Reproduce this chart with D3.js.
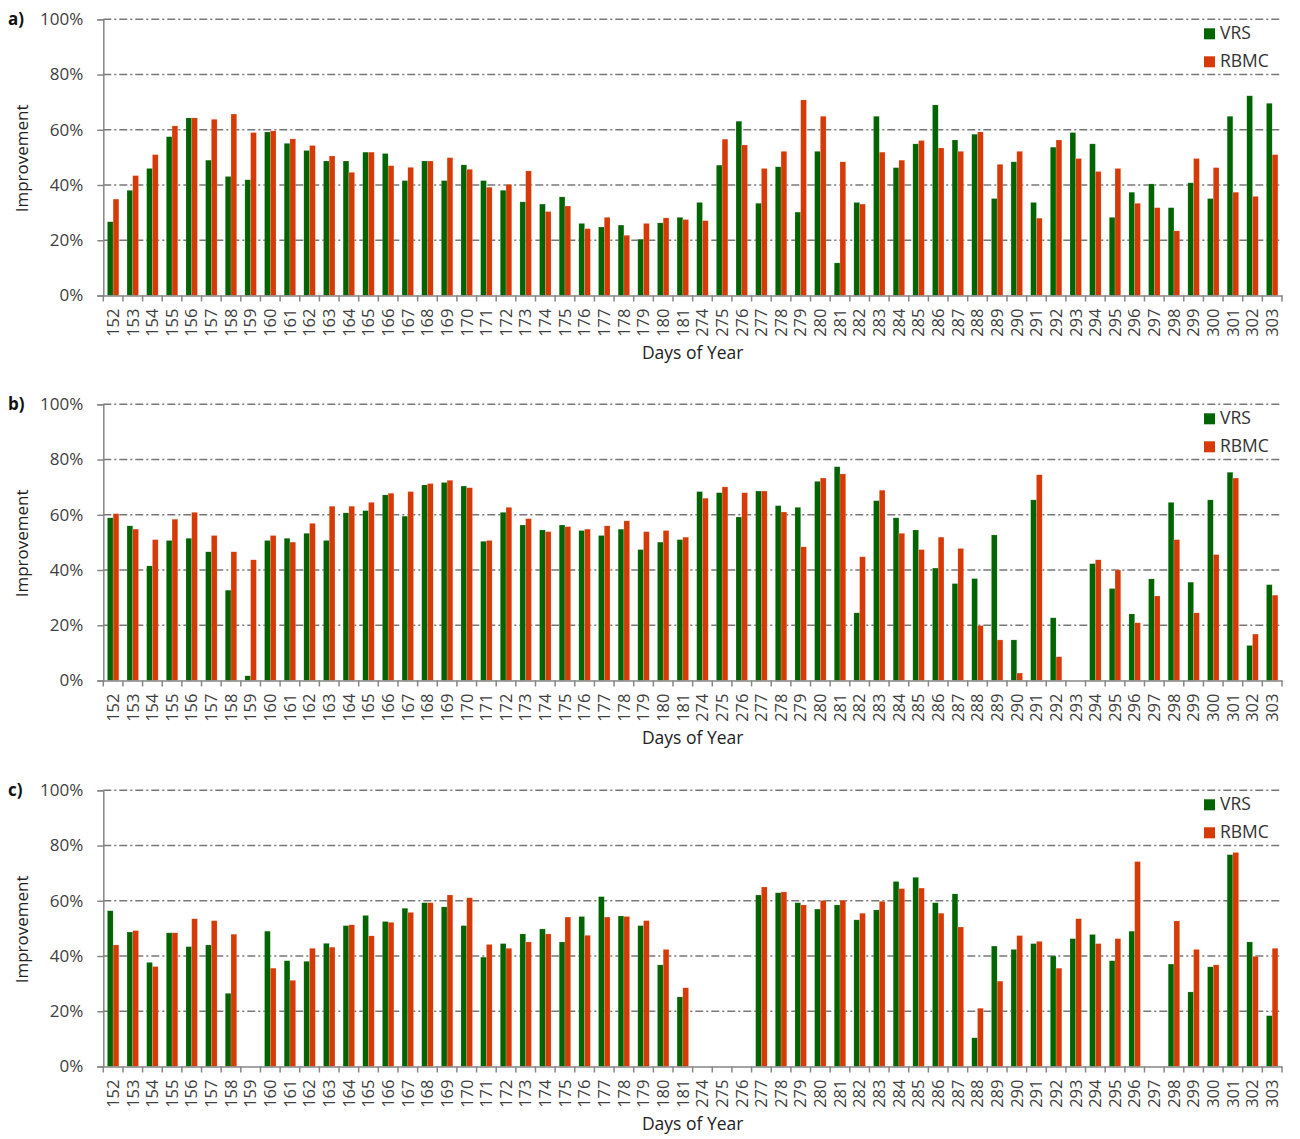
<!DOCTYPE html>
<html>
<head>
<meta charset="utf-8">
<script src="https://cdn.jsdelivr.net/npm/d3@7"></script>
<style>
  body { margin: 0; background: #fff; }
  svg text { font-family: "Open Sans", "Noto Sans", sans-serif; }
</style>
</head>
<body>
<div id="chart"></div>
<script>
// categories (day of year)
const days = ["152","153","154","155","156","157","158","159","160","161",
  "162","163","164","165","166","167","168","169","170","171",
  "172","173","174","175","176","177","178","179","180","181",
  "274","275","276","277","278","279","280","281","282","283",
  "284","285","286","287","288","289","290","291","292","293",
  "294","295","296","297","298","299","300","301","302","303"];

const seriesNames = ["VRS", "RBMC"];
const panelLabels = ["a)", "b)", "c)"];
const yTicks = [0, 20, 40, 60, 80, 100];

// panel a) improvement, %
const vrsA = [26.7,38.1,46.0,57.5,64.3,49.0,43.1,41.9,59.2,55.1,
  52.5,48.7,48.7,51.9,51.4,41.6,48.7,41.6,47.3,41.6,
  38.1,33.9,33.1,35.7,26.1,24.8,25.5,20.4,26.3,28.3,
  33.7,47.2,63.1,33.4,46.6,30.2,52.2,11.8,33.7,64.9,
  46.3,54.9,69.0,56.3,58.4,35.1,48.4,33.7,53.7,59.0,
  54.9,28.3,37.4,40.4,31.8,40.8,35.1,64.9,72.3,69.6];
const rbmcA = [34.9,43.4,51.0,61.4,64.3,63.8,65.7,59.0,59.6,56.7,
  54.3,50.5,44.6,51.9,47.0,46.4,48.7,49.9,45.7,39.2,
  40.2,45.1,30.4,32.4,24.2,28.3,21.8,26.1,28.1,27.5,
  27.1,56.6,54.5,46.0,52.2,70.8,64.9,48.4,33.1,51.9,
  49.0,56.1,53.4,52.2,59.2,47.5,52.2,28.0,56.3,49.6,
  44.9,46.0,33.4,31.8,23.4,49.6,46.3,37.4,35.9,51.0];

// panel b)
const vrsB = [58.9,56.0,41.5,50.7,51.5,46.6,32.7,1.7,50.7,51.5,
  53.3,50.7,60.7,61.5,67.2,59.5,70.8,71.7,70.4,50.4,
  60.9,56.3,54.5,56.3,54.3,52.5,54.8,47.4,50.1,51.0,
  68.4,68.0,59.2,68.6,63.3,62.7,72.1,77.4,24.5,65.1,
  58.9,54.5,40.7,35.1,36.9,52.7,14.7,65.4,22.7,null,
  42.3,33.3,24.1,36.8,64.5,35.6,65.4,75.4,12.7,34.7];
const rbmcB = [60.4,54.8,51.0,58.4,60.9,52.5,46.6,43.7,52.5,50.1,
  56.9,63.1,63.1,64.5,67.8,68.4,71.3,72.5,69.8,50.7,
  62.7,58.6,53.9,55.7,54.8,56.0,57.8,53.9,54.3,51.9,
  66.0,70.1,68.0,68.6,61.0,48.4,73.3,74.8,44.8,68.9,
  53.3,47.4,51.9,47.8,19.9,14.7,2.7,74.5,8.6,null,
  43.7,40.0,20.9,30.6,51.0,24.5,45.6,73.3,16.8,30.9];

// panel c)
const vrsC = [56.4,48.7,37.7,48.4,43.4,44.0,26.5,null,49.0,38.3,
  38.1,44.6,51.0,54.7,52.5,57.3,59.3,57.8,51.0,39.6,
  44.5,48.0,49.8,45.1,54.3,61.5,54.5,51.0,36.8,25.2,
  null,null,null,62.1,62.9,59.3,57.0,58.5,53.1,56.7,
  67.0,68.5,59.3,62.5,10.4,43.6,42.4,44.5,40.0,46.3,
  47.8,38.3,49.0,null,37.1,27.0,36.1,76.7,45.1,18.4];
const rbmcC = [44.0,49.2,36.2,48.4,53.5,52.8,47.9,null,35.6,31.2,
  42.8,43.2,51.3,47.3,52.2,55.8,59.3,62.1,61.1,44.2,
  42.8,45.1,48.0,54.1,47.5,54.1,54.3,52.8,42.4,28.5,
  null,null,null,65.0,63.2,58.5,60.1,60.2,55.5,59.8,
  64.4,64.6,55.5,50.5,21.1,30.9,47.4,45.3,35.6,53.5,
  44.5,46.3,74.2,null,52.7,42.4,36.8,77.5,39.9,42.8];

const panels = [[vrsA, rbmcA], [vrsB, rbmcB], [vrsC, rbmcC]];
const colors = {VRS: "#006400", RBMC: "#d63a06"};

const width = 1300, height = 1139;
const left = 103.3, right = 1282;
const panelTop = [19.3, 404.3, 790.3];
const plotH = 276.2;

const svg = d3.select("#chart").append("svg")
  .attr("width", width)
  .attr("height", height);

const x = d3.scaleBand()
  .domain(days)
  .range([left, right])
  .padding(0);

const xs = d3.scaleBand()
  .domain(seriesNames)
  .range([0, x.bandwidth()])
  .paddingInner(0)
  .paddingOuter(0.71);

panels.forEach((series, pi) => {
  const top = panelTop[pi];
  const y = d3.scaleLinear().domain([0, 100]).range([top + plotH, top]);
  const g = svg.append("g");

  // dash-dot gridlines
  g.selectAll(".grid")
    .data(yTicks.filter(d => d > 0))
    .join("line")
      .attr("x1", left).attr("x2", right)
      .attr("y1", d => y(d)).attr("y2", d => y(d))
      .attr("stroke", "#777")
      .attr("stroke-width", 1.5)
      .attr("stroke-dasharray", "8,3,2,3");

  // bars
  seriesNames.forEach((name, si) => {
    const vals = series[si];
    g.selectAll(".bar" + si)
      .data(days.map((d, i) => ({day: d, v: vals[i]})).filter(d => d.v !== null))
      .join("rect")
        .attr("x", d => x(d.day) + xs(name))
        .attr("width", xs.bandwidth())
        .attr("y", d => y(d.v))
        .attr("height", d => y(0) - y(d.v))
        .attr("fill", colors[name])
        .attr("stroke", "rgba(255,255,255,0.35)")
        .attr("stroke-width", 0.5);
  });

  // y axis
  const yAxis = g.append("g")
    .attr("transform", `translate(${left},0)`)
    .call(d3.axisLeft(y).tickValues(yTicks).tickFormat(d => d + "%").tickSize(6).tickPadding(14));
  yAxis.select(".domain").attr("stroke", "#868686").attr("stroke-width", 1.5);
  yAxis.selectAll(".tick line").attr("stroke", "#868686").attr("stroke-width", 1.5);
  yAxis.selectAll(".tick text")
    .attr("fill", "#404040")
    .style("font-size", "17px");

  // x axis: labels
  const xAxis = g.append("g")
    .attr("transform", `translate(0,${y(0)})`)
    .call(d3.axisBottom(x).tickSize(0));
  xAxis.select(".domain").attr("stroke", "#868686").attr("stroke-width", 1.5);
  xAxis.selectAll(".tick text")
    .attr("transform", "rotate(-90)")
    .attr("x", -13)
    .attr("y", 0)
    .attr("dy", "0.35em")
    .style("text-anchor", "end")
    .style("font-size", "16.5px")
    .attr("fill", "#404040");

  // x axis: tick marks on category boundaries
  g.selectAll(".xtick")
    .data(days.map(d => x(d)).concat([x.range()[1]]))
    .join("line")
      .attr("x1", d => d).attr("x2", d => d)
      .attr("y1", y(0)).attr("y2", y(0) + 6)
      .attr("stroke", "#868686")
      .attr("stroke-width", 1.5);

  // panel letter
  g.append("text")
    .attr("x", 8).attr("y", top + 6)
    .style("font-size", "17px")
    .style("font-weight", "bold")
    .attr("fill", "#111")
    .text(panelLabels[pi]);

  // axis titles
  g.append("text")
    .attr("transform", `translate(28,${top + plotH / 2 + 1}) rotate(-90)`)
    .style("text-anchor", "middle")
    .style("font-size", "17px")
    .attr("fill", "#222")
    .text("Improvement");

  g.append("text")
    .attr("x", (left + right) / 2)
    .attr("y", top + plotH + 63)
    .style("text-anchor", "middle")
    .style("font-size", "17.5px")
    .attr("fill", "#222")
    .text("Days of Year");

  // legend
  const lg = g.append("g").attr("transform", `translate(1204,${top + 9})`);
  seriesNames.forEach((name, si) => {
    lg.append("rect")
      .attr("x", 0).attr("y", si * 28)
      .attr("width", 11).attr("height", 11)
      .attr("fill", colors[name]);
    lg.append("text")
      .attr("x", 16).attr("y", si * 28 + 11)
      .style("font-size", "17.5px")
      .attr("fill", "#333")
      .text(name);
  });
});
</script>
</body>
</html>
